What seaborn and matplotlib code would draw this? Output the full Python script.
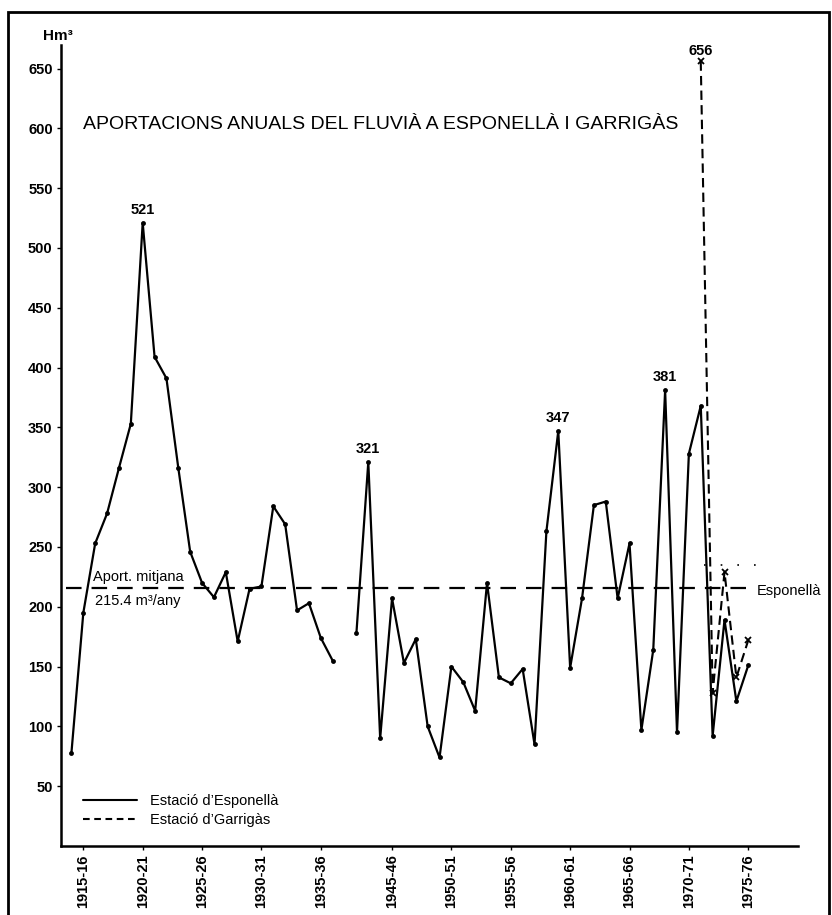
import numpy as np
import pandas as pd
import matplotlib
matplotlib.use("Agg")
import matplotlib.pyplot as plt
from matplotlib.lines import Line2D
from matplotlib.patches import Rectangle
import seaborn as sns

# ---------------- data ----------------
# hydrological years shown on the axis (one empty slot stands for 1937-42, no data)
seasons_first = ["1914-15", "1915-16", "1916-17", "1917-18", "1918-19", "1919-20",
                 "1920-21", "1921-22", "1922-23", "1923-24", "1924-25", "1925-26",
                 "1926-27", "1927-28", "1928-29", "1929-30", "1930-31", "1931-32",
                 "1932-33", "1933-34", "1934-35", "1935-36", "1936-37"]
esponella_first = [78, 195, 253, 278, 316, 353, 521, 409, 391, 316, 246, 220,
                   208, 229, 171, 215, 217, 284, 269, 197, 203, 174, 155]

seasons_second = ["1942-43", "1943-44", "1944-45", "1945-46", "1946-47", "1947-48",
                  "1948-49", "1949-50", "1950-51", "1951-52", "1952-53", "1953-54",
                  "1954-55", "1955-56", "1956-57", "1957-58", "1958-59", "1959-60",
                  "1960-61", "1961-62", "1962-63", "1963-64", "1964-65", "1965-66",
                  "1966-67", "1967-68", "1968-69", "1969-70", "1970-71", "1971-72",
                  "1972-73", "1973-74", "1974-75", "1975-76"]
esponella_second = [178, 321, 90, 207, 153, 173, 100, 74, 150, 137, 113, 220,
                    141, 136, 148, 85, 263, 347, 149, 207, 285, 288, 207, 253,
                    97, 164, 381, 95, 328, 368, 92, 189, 121, 151]

garrigas_seasons = ["1971-72", "1972-73", "1973-74", "1974-75", "1975-76"]
garrigas_values = [656, 128, 229, 141, 172]

tick_labels = ["1915-16", "1920-21", "1925-26", "1930-31", "1935-36", "1945-46",
               "1950-51", "1955-56", "1960-61", "1965-66", "1970-71", "1975-76"]

peak_labels = {"1920-21": 521, "1943-44": 321, "1959-60": 347, "1968-69": 381}
garrigas_peak = ("1971-72", 656)

mean_esponella = 215.4
mean_garrigas = 235          # faint dotted level at the right
garrigas_mean_span = ("1971-72", "1976-77")

# ---------------- positions on the axis ----------------
slots = seasons_first + [""] + seasons_second + ["1976-77"]
pos = {s: i for i, s in enumerate(slots) if s}

df_esp = pd.DataFrame({
    "pos": [pos[s] for s in seasons_first] + [pos[s] for s in seasons_second],
    "value": esponella_first + esponella_second,
    "segment": [0] * len(seasons_first) + [1] * len(seasons_second),
})
df_gar = pd.DataFrame({"pos": [pos[s] for s in garrigas_seasons],
                       "value": garrigas_values})

# ---------------- style ----------------
sns.set_style("ticks")
plt.rcParams["font.family"] = ["Liberation Sans", "DejaVu Sans"]
for k in ["text.color", "axes.labelcolor", "xtick.color", "ytick.color",
          "axes.edgecolor"]:
    plt.rcParams[k] = "black"

W, H = 832, 915
fig = plt.figure(figsize=(W / 100, H / 100), dpi=100)
ax_l, ax_r, ax_t, ax_b = 61, 798, 45, 846
ax = fig.add_axes([ax_l / W, (H - ax_b) / H, (ax_r - ax_l) / W, (ax_b - ax_t) / H])

# Esponellà (solid, two segments separated by the war gap)
sns.lineplot(data=df_esp, x="pos", y="value", units="segment", estimator=None,
             color="black", lw=1.6, marker="o", markersize=3.5,
             markeredgewidth=0, markerfacecolor="black", sort=False,
             legend=False, ax=ax)

# Garrigàs (dashed with x markers)
sns.lineplot(data=df_gar, x="pos", y="value", color="black", lw=1.5,
             linestyle=(0, (4.5, 2.5)), marker="x", markersize=4.5,
             markeredgewidth=1.3, markeredgecolor="black", sort=False,
             legend=False, ax=ax)

# mean lines
ax.hlines(mean_esponella, -0.45, 57.4, colors="black", lw=1.6,
          linestyles=[(0, (7, 4.5))])
ax.hlines(mean_garrigas, pos[garrigas_mean_span[0]] + 0.3,
          pos[garrigas_mean_span[1]] + 0.2, colors="black", lw=1.2,
          linestyles=[(0, (1, 9))])

# texts
ax.text(1.83, 225.3, "Aport. mitjana", fontsize=10.5, va="center", ha="left")
ax.text(1.99, 204.8, "215.4 m³/any", fontsize=10.5, va="center", ha="left")
ax.text(57.7, 213.0, "Esponellà", fontsize=10.5, va="center", ha="left")
ax.text(0.98, 603.3, "APORTACIONS ANUALS DEL FLUVIÀ A ESPONELLÀ I GARRIGÀS",
        fontsize=14, va="center", ha="left")

for s, v in peak_labels.items():
    ax.annotate(str(v), (pos[s], v), xytext=(0, 9.5), textcoords="offset points",
                ha="center", va="center", fontsize=10.5, fontweight="bold")
ax.annotate(str(garrigas_peak[1]), (pos[garrigas_peak[0]], garrigas_peak[1]),
            xytext=(0, 7.5), textcoords="offset points", ha="center",
            va="center", fontsize=10.5, fontweight="bold")

fig.text(58 / W, 1 - 35.5 / H, "Hm³", fontsize=11, fontweight="bold",
         ha="center", va="center")

# axes
ax.set_xlim(-0.88, 61.19)
ax.set_ylim(0, 669.7)
ax.set_yticks(np.arange(50, 651, 50))
ax.set_xticks([pos[s] for s in tick_labels])
ax.set_xticklabels(tick_labels, rotation=90, fontsize=10.5, fontweight="bold")
for t in ax.get_yticklabels():
    t.set_fontweight("bold")
ax.tick_params(axis="y", labelsize=10.5, length=3, width=1, pad=3)
ax.tick_params(axis="x", length=3, width=1, pad=3)
ax.set_xlabel("")
ax.set_ylabel("")
for side in ["top", "right"]:
    ax.spines[side].set_visible(False)
for side in ["left", "bottom"]:
    ax.spines[side].set_linewidth(1.8)

# legend
handles = [Line2D([], [], color="black", lw=1.5),
           Line2D([], [], color="black", lw=1.5, linestyle=(0, (3.2, 2.2)))]
ax.legend(handles, ["Estació d’Esponellà", "Estació d’Garrigàs"],
          loc="upper left", bbox_to_anchor=((83 - ax_l) / (ax_r - ax_l),
                                            (ax_b - 794) / (ax_b - ax_t)),
          frameon=False, fontsize=10.5, handlelength=3.7, handletextpad=0.9,
          borderpad=0, borderaxespad=0, labelspacing=0.35)

# outer frame
fig.add_artist(Rectangle((8 / W, -0.02), (829 - 8) / W, 1.02 - 11.7 / H,
                         transform=fig.transFigure, fill=False, lw=2,
                         edgecolor="black"))

fig.savefig("out.png", dpi=100)
